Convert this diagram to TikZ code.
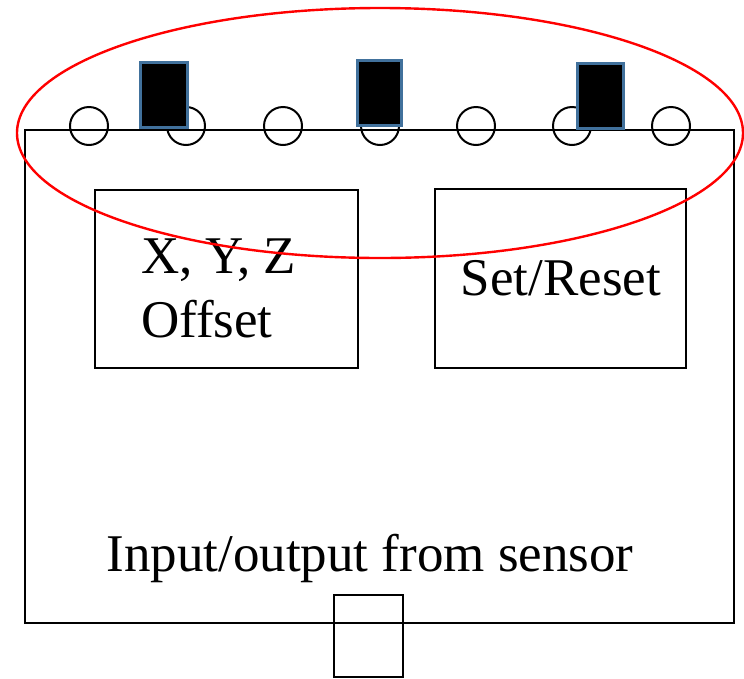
\documentclass[tikz,border=0pt]{standalone}
\usepackage{fontspec}
\setmainfont{Liberation Serif}
\newfontfamily\tnrfont{Liberation Serif}
\usetikzlibrary{positioning}
\begin{document}
\begin{tikzpicture}[x=1pt,y=-1pt,
  line/.style={draw=black,line width=2pt},
  pin/.style={line width=2pt,draw=black,circle,minimum size=38pt,inner sep=0pt},
  lbl/.style={font=\tnrfont\fontsize{53}{64}\selectfont,inner sep=0pt}]
\definecolor{chipedge}{HTML}{41719C}
\tikzset{chip/.style={fill=black,draw=chipedge,line width=2.6pt}}
\useasboundingbox (0,0) rectangle (744,678);
\fill[white] (0,0) rectangle (744,678);
% main board
\draw[line] (25,130) rectangle (734,623);
% pins
\foreach \i/\x in {1/89,2/186,3/283,4/380,5/476,6/572,7/671}
  \node[pin] (p\i) at (\x,126) {};
% chips
\draw[chip] (140.5,62.5) rectangle (187.5,127.5);
\draw[chip] (357.5,60.5) rectangle (401.5,125.5);
\draw[chip] (577.5,63.5) rectangle (623.5,128.5);
% inner boxes
\draw[line] (95,190) rectangle (358,368);
\draw[line] (435,189) rectangle (686,368);
% texts
\node[lbl,anchor=base west] (xyz) at (141,273) {X, Y, Z};
\node[lbl,anchor=base west] (off) at (141,337) {Offset};
\node[lbl,anchor=base] (sr) at (561,295) {Set/Reset};
\node[lbl,anchor=base] (io) at (370,571) {Input/output from sensor};
% bottom connector
\draw[line] (334,595) rectangle (403,677);
% red ellipse
\draw[red,line width=2.4pt] (380,133) ellipse [x radius=363, y radius=125];
\end{tikzpicture}
\end{document}
